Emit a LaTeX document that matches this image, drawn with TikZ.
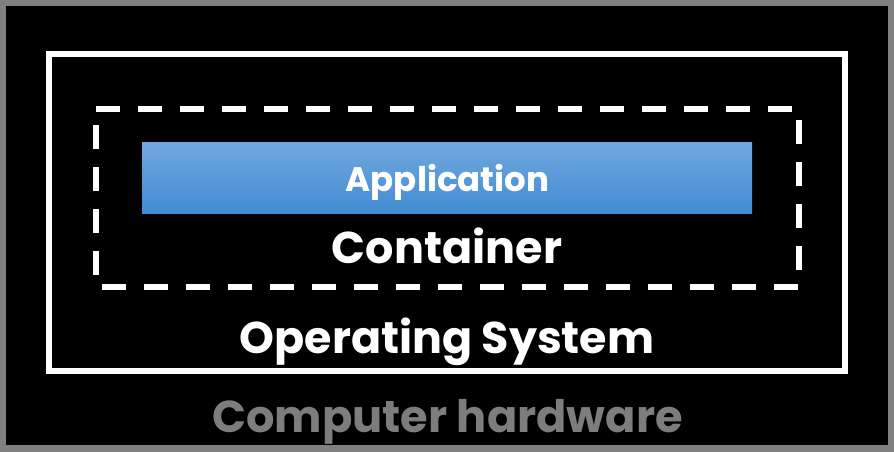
\documentclass[tikz,border=0pt]{standalone}
\usepackage{fontspec}
\setmainfont{Poppins}[BoldFont={* Bold}]
\definecolor{framegray}{RGB}{128,128,128}
\definecolor{hwgray}{RGB}{125,125,125}
\definecolor{apptop}{RGB}{112,168,222}
\definecolor{appbot}{RGB}{66,140,210}
\tikzset{
  label text/.style={text=white, font=\bfseries, inner sep=0pt, anchor=base},
  solid box/.style={draw=white, line width=6pt},
  dashed box/.style={draw=white, line width=6pt, dash pattern=on 24pt off 18pt},
}
\begin{document}
\begin{tikzpicture}[x=1pt, y=-1pt]
  \useasboundingbox (0,0) rectangle (894,452);
  \fill[framegray] (0,0) rectangle (894,452);
  \fill[black] (6,6) rectangle (888,445);
  \draw[solid box] (49,54) rectangle (845,371);
  \draw[dashed box] (96,109) -- (799,109) -- (799,287) -- (96,287) -- cycle;
  \shade[top color=apptop, bottom color=appbot] (142,142) rectangle (752,213);
  \node[label text, font=\fontsize{34}{34}\selectfont\bfseries] (app) at (447.5,191) {Application};
  \node[label text, font=\fontsize{44.5}{44.5}\selectfont\bfseries] (cont) at (447,263) {Container};
  \node[label text, font=\fontsize{44.4}{44.4}\selectfont\bfseries] (os) at (447,353) {Operating System};
  \node[label text, text=hwgray, font=\fontsize{44.7}{44.7}\selectfont\bfseries] (hw) at (447.5,432) {Computer hardware};
\end{tikzpicture}
\end{document}
